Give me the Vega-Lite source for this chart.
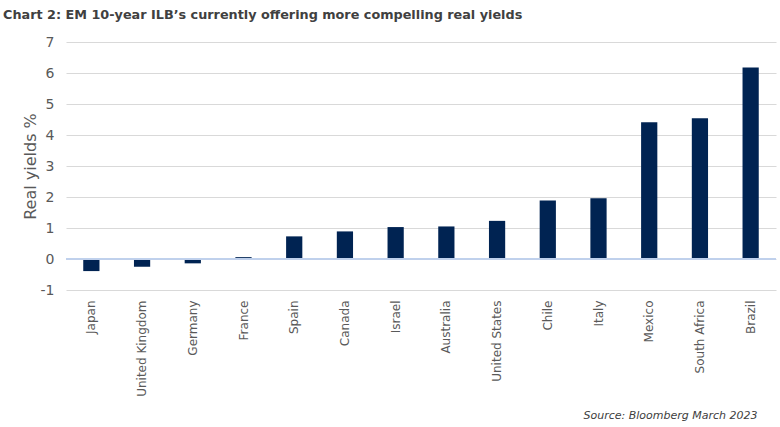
{
  "$schema": "https://vega.github.io/schema/vega-lite/v6.json",
  "width": 710,
  "height": 248,
  "autosize": "none",
  "padding": {"left": 66, "top": 42, "right": 4, "bottom": 137},
  "background": "white",
  "title": {
    "text": "Chart 2: EM 10-year ILB\u2019s currently offering more compelling real yields",
    "anchor": "start",
    "frame": "group",
    "dx": -63,
    "offset": 13,
    "font": "DejaVu Sans",
    "fontSize": 12.8,
    "fontWeight": "bold",
    "color": "#404040"
  },
  "config": {
    "view": {"stroke": null},
    "font": "DejaVu Sans",
    "axis": {"labelOverlap": false}
  },
  "data": {
    "values": [
      {"country": "Japan", "yield": -0.39},
      {"country": "United Kingdom", "yield": -0.25},
      {"country": "Germany", "yield": -0.14},
      {"country": "France", "yield": 0.06},
      {"country": "Spain", "yield": 0.73},
      {"country": "Canada", "yield": 0.89},
      {"country": "Israel", "yield": 1.03},
      {"country": "Australia", "yield": 1.05},
      {"country": "United States", "yield": 1.23},
      {"country": "Chile", "yield": 1.89},
      {"country": "Italy", "yield": 1.96},
      {"country": "Mexico", "yield": 4.41},
      {"country": "South Africa", "yield": 4.54},
      {"country": "Brazil", "yield": 6.18}
    ]
  },
  "resolve": {"axis": {"y": "independent"}},
  "layer": [
    {
      "mark": {"type": "bar", "color": "#002352"},
      "encoding": {
        "x": {
          "field": "country",
          "type": "nominal",
          "sort": null,
          "scale": {"paddingInner": 0.68, "paddingOuter": 0.34},
          "axis": {
            "title": "Source: Bloomberg March 2023",
            "titleFont": "DejaVu Sans",
            "titleFontStyle": "italic",
            "titleFontWeight": "normal",
            "titleFontSize": 11,
            "titleColor": "#404040",
            "titleAlign": "right",
            "titleAnchor": null,
            "titleX": 691,
            "titleY": 125,
            "titleBaseline": "middle",
            "labelAngle": -90,
            "labelFontSize": 12,
            "labelColor": "#595959",
            "labelPadding": 10,
            "ticks": false,
            "domain": false
          }
        },
        "y": {
          "field": "yield",
          "type": "quantitative",
          "scale": {"domain": [-1, 7], "nice": false},
          "axis": {
            "title": "Real yields %",
            "titleFontSize": 16,
            "titleFontWeight": "normal",
            "titleColor": "#595959",
            "titlePadding": 2,
            "values": [-1, 0, 1, 2, 3, 4, 5, 6, 7],
            "labelExpr": "'' + datum.value",
            "labelOverlap": false,
            "labelFontSize": 14,
            "labelColor": "#595959",
            "labelPadding": 12,
            "ticks": false,
            "domain": false,
            "gridColor": "#d9d9d9",
            "gridWidth": 1
          }
        }
      }
    },
    {
      "mark": {"type": "rule", "color": "#bfd0ec", "strokeWidth": 1},
      "encoding": {"y": {"datum": 0, "axis": null}}
    }
  ]
}
